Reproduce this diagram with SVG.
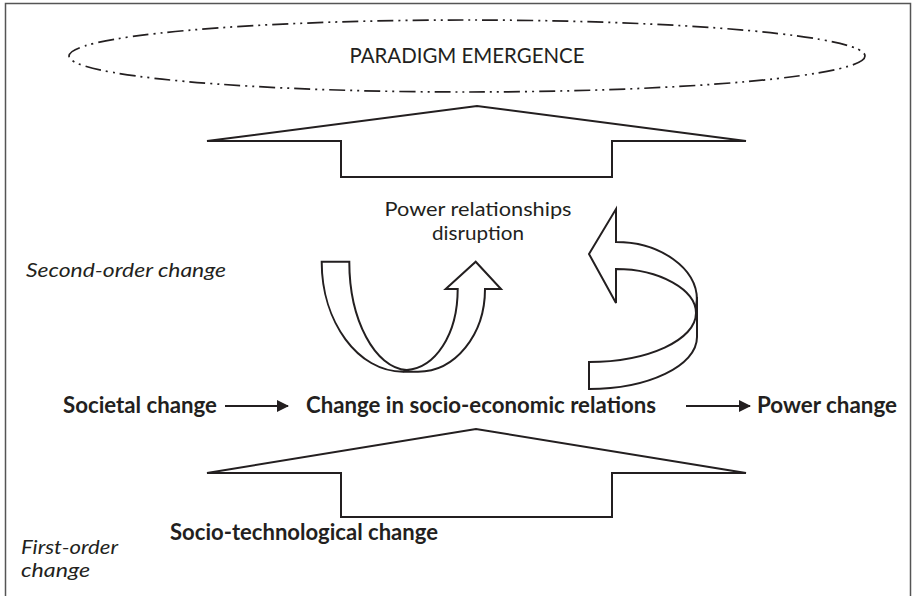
<svg xmlns="http://www.w3.org/2000/svg" width="913" height="596" viewBox="0 0 913 596">
<style>
.t{font-family:Lato,"Open Sans","Liberation Sans",sans-serif;fill:#231f20}
.b{font-weight:bold;font-size:22px}
.i{font-style:italic;font-size:20px}
.i2{font-style:italic;font-size:19px}
.r{font-size:19px}
.s{fill:#fff;stroke:#231f20;stroke-width:2;stroke-linejoin:miter}
.c{fill:none;stroke:#231f20;stroke-width:1.8}
.l{stroke:#231f20;stroke-width:2.2}
</style>
<defs>
<marker id="ah" viewBox="0 0 12 12" refX="11" refY="6" markerWidth="12" markerHeight="12" markerUnits="userSpaceOnUse" orient="auto">
<path d="M0,0 L12,6 L0,12 Z" fill="#231f20"/>
</marker>
</defs>
<rect x="5.5" y="3.5" width="905" height="610" fill="#fff" stroke="#555" stroke-width="1.5"/>
<g id="paradigm">
<ellipse cx="467" cy="56" rx="398" ry="36" fill="none" stroke="#231f20" stroke-width="1.7" stroke-dasharray="16 5 2 5 2 5"/>
<text class="t" x="467" y="63" font-size="21" text-anchor="middle" textLength="235" lengthAdjust="spacingAndGlyphs">PARADIGM EMERGENCE</text>
</g>
<g id="upper-arrow">
<path class="s" d="M207,141 L477,106 L746,141 L612,141 L612,177 L341,177 L341,141 Z"/>
</g>
<g id="power-disruption">
<text class="t r" x="478" y="216" text-anchor="middle" textLength="187" lengthAdjust="spacingAndGlyphs">Power relationships</text>
<text class="t r" x="478" y="240" text-anchor="middle" textLength="92" lengthAdjust="spacingAndGlyphs">disruption</text>
</g>
<g id="u-arrow">
<path class="s" d="M321.7,261.7 L349.3,261.7 C349.3,320 375,368 406.7,370 C435,368 457.7,335 457.7,289 L445.7,289 L475.7,261.7 L501,289 L485,289 C485,335 455,371.7 418,371.7 L403,371.7 C358,371.7 321.7,322 321.7,261.7 Z"/>
<path class="c" d="M406.7,370 L403,371.7"/>
</g>
<g id="return-arrow">
<path class="s" d="M616,242 L616,209 L589,254 L616,303 L616,269 C660,269 696,290 696,313 L697,300 C697,268 660,242 616,242 Z"/>
<path class="s" d="M696,313 C696,340 648,362 589,362 L589,389 C648,389 697,366 697,337 L697,297 Z"/>
</g>
<g id="connectors">
<line class="l" x1="225" y1="406" x2="288" y2="406" marker-end="url(#ah)"/>
<line class="l" x1="686" y1="406" x2="750" y2="406" marker-end="url(#ah)"/>
</g>
<g id="societal">
<text class="t b" x="63" y="413" textLength="154" lengthAdjust="spacingAndGlyphs">Societal change</text>
</g>
<g id="socioeconomic">
<text class="t b" x="306" y="413" textLength="350" lengthAdjust="spacingAndGlyphs">Change in socio-economic relations</text>
</g>
<g id="power">
<text class="t b" x="757" y="413" textLength="140" lengthAdjust="spacingAndGlyphs">Power change</text>
</g>
<g id="lower-arrow">
<path class="s" d="M207,473 L476,429 L746,473 L612,473 L612,517 L341,517 L341,473 Z"/>
</g>
<g id="sociotech">
<text class="t b" x="170" y="540" textLength="268" lengthAdjust="spacingAndGlyphs">Socio-technological change</text>
</g>
<g id="labels">
<text class="t i" x="26" y="277" textLength="200" lengthAdjust="spacingAndGlyphs">Second-order change</text>
<text class="t i2" x="21" y="554" textLength="97" lengthAdjust="spacingAndGlyphs">First-order</text>
<text class="t i2" x="21" y="577" textLength="69" lengthAdjust="spacingAndGlyphs">change</text>
</g>
</svg>
